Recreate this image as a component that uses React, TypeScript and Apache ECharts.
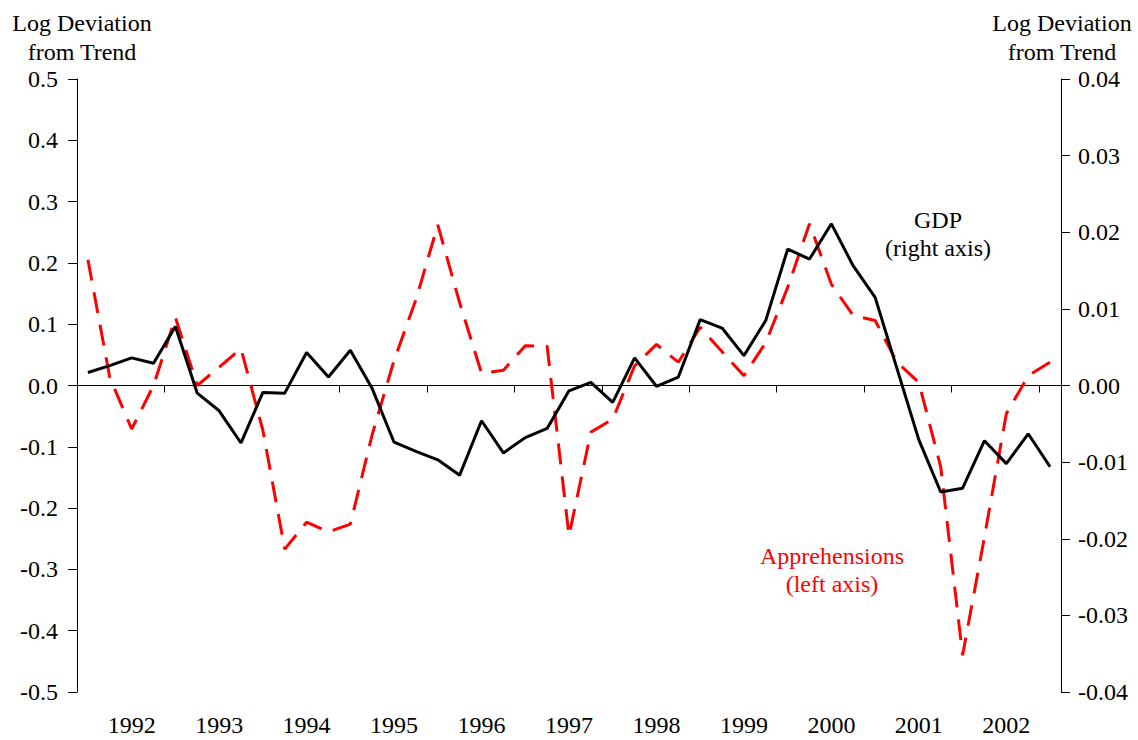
import React, { useEffect, useRef } from "react";
import * as echarts from "echarts";

const quarters = [
  "1991Q4",
  "1992Q1", "1992Q2", "1992Q3", "1992Q4",
  "1993Q1", "1993Q2", "1993Q3", "1993Q4",
  "1994Q1", "1994Q2", "1994Q3", "1994Q4",
  "1995Q1", "1995Q2", "1995Q3", "1995Q4",
  "1996Q1", "1996Q2", "1996Q3", "1996Q4",
  "1997Q1", "1997Q2", "1997Q3", "1997Q4",
  "1998Q1", "1998Q2", "1998Q3", "1998Q4",
  "1999Q1", "1999Q2", "1999Q3", "1999Q4",
  "2000Q1", "2000Q2", "2000Q3", "2000Q4",
  "2001Q1", "2001Q2", "2001Q3", "2001Q4",
  "2002Q1", "2002Q2", "2002Q3", "2002Q4",
];

// GDP, log deviation from trend (right axis)
const gdp = [
  0.0017, 0.0026, 0.0036, 0.0029, 0.0077, -0.001, -0.0033, -0.0075, -0.0009,
  -0.001, 0.0043, 0.0011, 0.0046, -0.0004, -0.0074, -0.0086, -0.0097, -0.0117,
  -0.0046, -0.0088, -0.0068, -0.0056, -0.0007, 0.0004, -0.0022, 0.0036,
  -0.0001, 0.0011, 0.0086, 0.0075, 0.0039, 0.0085, 0.0178, 0.0165, 0.0211,
  0.0156, 0.0115, 0.0022, -0.0071, -0.0139, -0.0134, -0.0072, -0.0102,
  -0.0063, -0.0106,
];

// Apprehensions, log deviation from trend (left axis)
const apprehensions = [
  0.205, 0.013, -0.071, 0.0, 0.111, 0.0, 0.03, 0.06, -0.073, -0.267, -0.223,
  -0.239, -0.226, -0.08, 0.041, 0.14, 0.262, 0.135, 0.02, 0.025, 0.065, 0.064,
  -0.245, -0.076, -0.055, 0.032, 0.067, 0.038, 0.095, 0.055, 0.016, 0.07,
  0.16, 0.264, 0.165, 0.114, 0.106, 0.038, 0.005, -0.133, -0.44, -0.247,
  -0.046, 0.016, 0.038,
];

const leftTitle = ["Log Deviation", "from Trend"];
const rightTitle = ["Log Deviation", "from Trend"];
const gdpNote = ["GDP", "(right axis)"];
const apprNote = ["Apprehensions", "(left axis)"];

const FONT = "Liberation Serif";

export default function App() {
  const ref = useRef<HTMLDivElement>(null);

  useEffect(() => {
    if (!ref.current) return;
    const chart = echarts.init(ref.current, null, { renderer: "svg" });
    const txt = (text: string, x: number, y: number, color = "#000") => ({
      type: "text",
      x,
      y,
      style: {
        text,
        fill: color,
        fontFamily: FONT,
        fontSize: 24,
        align: "center",
        verticalAlign: "middle",
      },
    });
    const labelStyle = { fontFamily: FONT, fontSize: 24, color: "#000" };
    chart.setOption({
      animation: false,
      backgroundColor: "#fff",
      textStyle: { fontFamily: FONT },
      grid: { left: 77, right: 77, top: 79, bottom: 48, containLabel: false },
      xAxis: [
        {
          type: "category",
          data: quarters,
          boundaryGap: true,
          position: "bottom",
          axisLine: { show: true, onZero: true, lineStyle: { color: "#000", width: 1 } },
          axisTick: {
            show: true,
            inside: false,
            length: 7,
            interval: (i: number) => i % 4 === 0,
            lineStyle: { color: "#000", width: 1 },
          },
          axisLabel: { show: false },
          splitLine: { show: false },
        },
        {
          type: "category",
          data: quarters,
          boundaryGap: true,
          position: "bottom",
          axisLine: { show: false, onZero: false },
          axisTick: { show: false },
          axisLabel: {
            show: true,
            interval: (i: number) => i % 4 === 2,
            formatter: (v: string) => v.slice(0, 4),
            ...labelStyle,
            margin: 21,
          },
          splitLine: { show: false },
        },
      ],
      yAxis: [
        {
          type: "value",
          position: "left",
          min: -0.5,
          max: 0.5,
          interval: 0.1,
          axisLine: { show: true, onZero: false, lineStyle: { color: "#000", width: 1 } },
          axisTick: { show: true, inside: false, length: 9, lineStyle: { color: "#000" } },
          axisLabel: {
            formatter: (v: number) => (Math.abs(v) < 1e-9 ? "0.0" : v.toFixed(1)),
            ...labelStyle,
            margin: 19,
          },
          splitLine: { show: false },
        },
        {
          type: "value",
          position: "right",
          min: -0.04,
          max: 0.04,
          interval: 0.01,
          axisLine: { show: true, onZero: false, lineStyle: { color: "#000", width: 1 } },
          axisTick: { show: true, inside: false, length: 9, lineStyle: { color: "#000" } },
          axisLabel: {
            formatter: (v: number) => (Math.abs(v) < 1e-9 ? "0.00" : v.toFixed(2)),
            ...labelStyle,
            margin: 17,
          },
          splitLine: { show: false },
        },
      ],
      series: [
        {
          name: "Apprehensions",
          type: "line",
          xAxisIndex: 0,
          yAxisIndex: 0,
          data: apprehensions,
          symbol: "none",
          lineStyle: { color: "#ff0000", width: 3, type: [21, 12], cap: "butt" },
          z: 2,
        },
        {
          name: "GDP",
          type: "line",
          xAxisIndex: 0,
          yAxisIndex: 1,
          data: gdp,
          symbol: "none",
          lineStyle: { color: "#000", width: 3 },
          z: 3,
        },
      ],
      graphic: [
        txt(leftTitle[0], 82, 23),
        txt(leftTitle[1], 82, 52),
        txt(rightTitle[0], 1062, 23),
        txt(rightTitle[1], 1062, 52),
        txt(gdpNote[0], 938, 220),
        txt(gdpNote[1], 938, 248),
        txt(apprNote[0], 832, 556, "#ff0000"),
        txt(apprNote[1], 832, 584, "#ff0000"),
      ],
    });
    return () => chart.dispose();
  }, []);

  return (
    <div
      ref={ref}
      style={{ position: "fixed", left: 0, top: 0, width: 1138, height: 740, background: "#fff" }}
    />
  );
}
